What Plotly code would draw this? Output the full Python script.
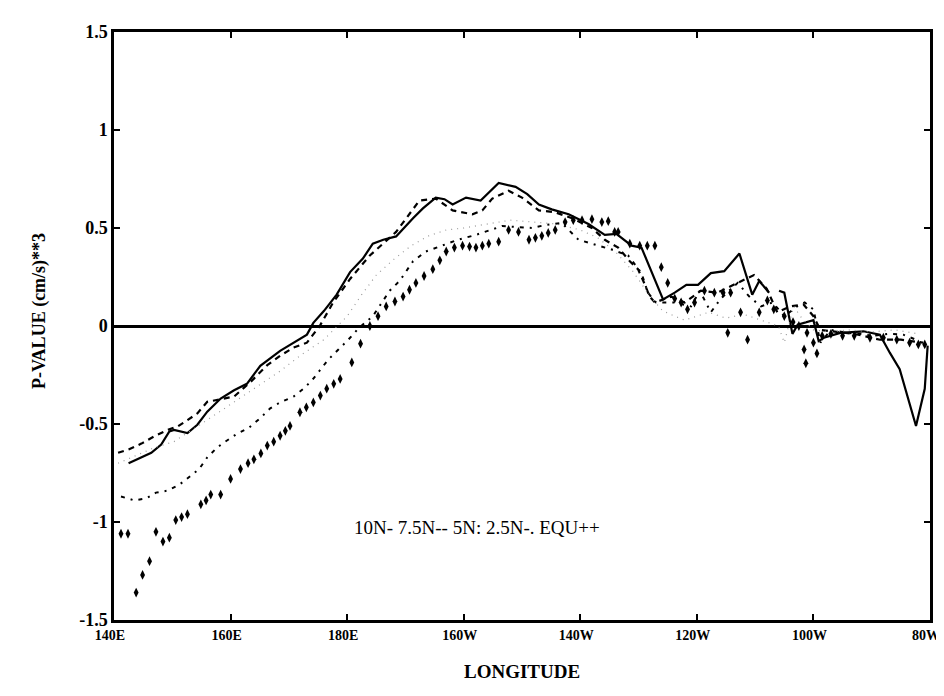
import plotly.graph_objects as go

# Longitude in degrees east (140E .. 280 = 80W)
tick_vals = [140, 160, 180, 200, 220, 240, 260, 280]
tick_text = ["140E", "160E", "180E", "160W", "140W", "120W", "100W", "80W"]
y_tick_vals = [-1.5, -1, -0.5, 0, 0.5, 1, 1.5]
y_tick_text = ["-1.5", "-1", "-0.5", "0", "0.5", "1", "1.5"]

lon_10n = [142.5, 144.7, 146.4, 148.1, 149.5, 150.3, 152.6, 154.3, 156.0, 158.3, 160.6, 162.8, 164.0, 165.1,
           168.5, 171.4, 173.1, 174.2, 176.0, 178.2, 180.5, 182.7, 184.4, 186.2, 188.4, 191.3, 193.0, 195.2,
           196.7, 198.1, 200.4, 202.9, 204.3, 206.0, 208.9, 210.9, 212.9, 215.1, 218.0, 221.4, 224.2, 226.2,
           228.8, 230.5, 234.2, 236.2, 238.2, 240.2, 242.4, 244.7, 247.3, 249.5, 250.7, 252.4, None, 254.1,
           255.0, 256.4, 257.3, 260.0, 260.9, 261.8, 264.6, 268.6, 271.4, 273.1, 274.8, 277.6, 279.1, 279.6]
val_10n = [-0.70, -0.67, -0.647, -0.605, -0.538, -0.53, -0.546, -0.504, -0.437, -0.37, -0.328, -0.295, -0.245, -0.203,
           -0.127, -0.077, -0.044, 0.016, 0.076, 0.16, 0.275, 0.344, 0.42, 0.44, 0.457, 0.55, 0.60, 0.655,
           0.647, 0.62, 0.655, 0.64, 0.68, 0.73, 0.71, 0.673, 0.62, 0.595, 0.57, 0.52, 0.465, 0.47,
           0.41, 0.40, 0.136, 0.17, 0.21, 0.21, 0.27, 0.28, 0.37, 0.16, 0.23, 0.17, None, 0.18,
           0.17, -0.04, 0.007, 0.03, -0.077, -0.06, -0.035, -0.027, -0.044, -0.136, -0.22, -0.51, -0.32, -0.10]

lon_75n = [140.7, 142.5, 144.7, 146.9, 149.2, 150.9, 152.6, 154.3, 156.0, 158.0, 160.6, 163.4, 166.3, 168.5,
           170.8, 173.1, 175.3, 177.6, 180.5, 183.9, 188.4, 192.4, 195.2, 198.1, 201.5, 203.2, 204.9, 207.7,
           210.0, 212.9, 215.7, 218.6, 222.0, 224.2, 226.5, 228.5, 229.9, 231.1, 231.9, 232.8, 235.6, 237.9,
           240.7, 243.5, 246.9, 249.8, 252.0, 253.8, 256.0, 258.3, 260.0, 261.2, 264.0, 267.0, 271.4, 275.0, 278.8]
val_75n = [-0.647, -0.63, -0.60, -0.563, -0.53, -0.513, -0.48, -0.446, -0.387, -0.375, -0.36, -0.286, -0.20, -0.152,
           -0.11, -0.085, 0.0, 0.12, 0.24, 0.36, 0.48, 0.64, 0.65, 0.59, 0.57, 0.59, 0.65, 0.69,
           0.655, 0.59, 0.58, 0.55, 0.50, 0.44, 0.40, 0.33, 0.29, 0.21, 0.15, 0.12, 0.15, 0.12,
           0.18, 0.17, 0.22, 0.26, 0.19, 0.07, 0.10, 0.11, 0.05, -0.02, -0.03, -0.04, -0.07, -0.07, -0.085]

lon_5n = [140.7, 144.0, 147.0, 150.3, 154.0, 158.0, 162.0, 165.0, 168.5, 172.0, 176.0, 180.0, 182.5, 185.0,
          188.0, 191.0, 194.0, 197.0, 200.0, 204.0, 208.0, 212.0, 216.0, 220.0, 223.0, 226.0, 229.0, 232.0,
          234.1, 236.2, 237.9, 240.0, 242.0, 245.0, 248.0, 251.0, 254.0, 255.0, 256.6, 258.0, 260.0, 263.0,
          266.0, 270.0, 274.0, 278.0]
val_5n = [-0.70, -0.66, -0.62, -0.59, -0.52, -0.44, -0.36, -0.30, -0.23, -0.15, -0.07, 0.05, 0.16, 0.26,
          0.34, 0.41, 0.46, 0.49, 0.50, 0.52, 0.54, 0.53, 0.52, 0.49, 0.45, 0.38, 0.28, 0.15,
          0.078, 0.05, 0.03, 0.05, 0.07, 0.04, 0.06, 0.03, 0.0, -0.085, 0.10, 0.04, -0.02, -0.03,
          -0.02, -0.03, -0.02, -0.04]

lon_25n = [141.2, 143.5, 145.5, 147.2, 149.2, 151.2, 152.9, 154.6, 156.0, 157.7, 159.1, 161.1, 163.1, 165.1,
           166.8, 168.5, 170.8, 172.5, 173.9, 175.4, 176.8, 178.5, 180.2, 182.0, 184.4, 187.3, 189.0, 191.3,
           193.5, 195.8, 199.0, 202.1, 204.5, 206.6, 209.0, 211.7, 214.0, 216.8, 219.7, 222.0, 225.4, 228.2,
           230.5, 231.6, 233.0, 236.2, 239.0, 240.5, 242.4, 244.1, 245.8, 247.0, 249.0, 251.0, 253.0, 255.0,
           257.2, 258.5, 260.0, 261.2, 263.0, 265.7, 268.0, 270.3, 273.0, 275.4, 277.6, 279.3]
val_25n = [-0.87, -0.89, -0.88, -0.85, -0.84, -0.81, -0.77, -0.73, -0.67, -0.62, -0.59, -0.55, -0.52, -0.47,
           -0.42, -0.39, -0.36, -0.32, -0.28, -0.22, -0.17, -0.12, -0.07, -0.01, 0.05, 0.18, 0.23, 0.33,
           0.38, 0.405, 0.44, 0.465, 0.49, 0.51, 0.505, 0.50, 0.515, 0.526, 0.44, 0.42, 0.39, 0.36,
           0.27, 0.17, 0.12, 0.12, 0.10, 0.18, 0.07, 0.14, 0.19, 0.22, 0.15, 0.10, 0.12, 0.05,
           0.10, 0.12, 0.085, -0.085, -0.02, -0.035, -0.04, -0.05, -0.04, -0.044, -0.07, -0.10]

lon_equ = [141.2, 142.4, 143.8, 144.9, 146.1, 147.2, 148.4, 149.5, 150.6, 151.6, 152.6, 154.9, 155.8, 156.6,
           158.3, 160.0, 161.7, 163.0, 164.0, 165.2, 166.3, 167.4, 168.5, 169.4, 170.2, 171.9, 173.0, 174.2,
           175.4, 176.5, 177.7, 178.8, 180.8, 182.3, 183.9, 185.3, 186.7, 188.2, 189.6, 190.7, 191.8, 193.2,
           194.7, 195.9, 197.0, 198.4, 199.8, 201.0, 202.1, 203.2, 204.3, 206.0, 207.7, 209.4, 211.2, 212.3,
           213.4, 214.5, 215.7, 217.4, 218.8, 220.3, 222.0, 223.7, 224.8, 225.9, 226.5, 228.5, 230.2, 231.5,
           232.8, 233.9, 235.0, 236.2, 237.3, 238.4, 239.6, 241.3, 243.0, 244.5, 245.3, 245.8, 247.5, 248.7,
           250.7, 252.1, 253.2, 255.0, 256.5, 257.5, 258.4, 258.7, 258.9, 260.0, 260.6, 261.5, 263.0, 265.0,
           267.0, 269.7, 272.0, 274.3, 276.5, 278.0, 279.1]
val_equ = [-1.06, -1.06, -1.36, -1.27, -1.20, -1.05, -1.10, -1.08, -0.99, -0.975, -0.96, -0.91, -0.89, -0.86,
           -0.86, -0.78, -0.73, -0.70, -0.68, -0.65, -0.61, -0.59, -0.56, -0.535, -0.51, -0.44, -0.415, -0.39,
           -0.355, -0.32, -0.295, -0.27, -0.186, -0.09, 0.0, 0.05, 0.10, 0.125, 0.15, 0.185, 0.22, 0.255,
           0.29, 0.335, 0.38, 0.40, 0.41, 0.405, 0.40, 0.41, 0.42, 0.43, 0.49, 0.48, 0.44, 0.45,
           0.46, 0.475, 0.49, 0.53, 0.54, 0.54, 0.545, 0.53, 0.535, 0.48, 0.48, 0.42, 0.41, 0.41,
           0.41, 0.30, 0.22, 0.14, 0.12, 0.085, 0.12, 0.18, 0.17, 0.17, -0.035, 0.17, 0.07, -0.07,
           0.07, 0.13, 0.085, 0.05, 0.02, 0.0, -0.12, -0.19, -0.035, -0.085, -0.14, -0.05, -0.04, -0.05,
           -0.05, -0.06, -0.06, -0.07, -0.085, -0.094, -0.094]

legend_text = "10N- 7.5N-- 5N: 2.5N-. EQU++"

serif = "Liberation Serif, Times New Roman, serif"

fig = go.Figure()
fig.add_trace(go.Scatter(x=lon_10n, y=val_10n, mode="lines", name="10N",
                         line=dict(color="black", width=2.2), connectgaps=False))
fig.add_trace(go.Scatter(x=lon_75n, y=val_75n, mode="lines", name="7.5N",
                         line=dict(color="black", width=2.2, dash="6px,5px")))
fig.add_trace(go.Scatter(x=lon_5n, y=val_5n, mode="lines", name="5N",
                         line=dict(color="#9a9a9a", width=1.2, dash="1px,5px")))
fig.add_trace(go.Scatter(x=lon_25n, y=val_25n, mode="lines", name="2.5N",
                         line=dict(color="black", width=2, dash="4px,6px,2px,6px")))
fig.add_trace(go.Scatter(x=lon_equ, y=val_equ, mode="markers", name="EQU",
                         marker=dict(color="black", symbol="diamond-tall", size=7)))

fig.add_annotation(x=180.8, y=-1.03, xref="x", yref="y", text=legend_text, showarrow=False,
                   xanchor="left", yanchor="middle",
                   font=dict(family=serif, size=19, color="black"))
fig.add_annotation(x=0.5, y=-0.088, xref="paper", yref="paper", text="LONGITUDE", showarrow=False,
                   xanchor="center", yanchor="middle",
                   font=dict(family=serif, size=19, color="black", weight="bold"))
fig.add_annotation(x=-0.091, y=0.525, xref="paper", yref="paper", text="P-VALUE (cm/s)**3", showarrow=False,
                   textangle=-90, xanchor="center", yanchor="middle",
                   font=dict(family=serif, size=18, color="black", weight="bold"))

fig.update_layout(
    width=944, height=696,
    margin=dict(l=106, r=17, t=24, b=84),
    paper_bgcolor="white", plot_bgcolor="white",
    showlegend=False,
    xaxis=dict(range=[140, 280], tickvals=tick_vals, ticktext=tick_text,
               showgrid=False, zeroline=False, showline=True, linecolor="black", linewidth=2.5,
               mirror="ticks", ticks="inside", ticklen=6, tickwidth=2, tickcolor="black",
               ticklabelshift=-4,
               tickfont=dict(family=serif, size=14, color="black", weight="bold")),
    yaxis=dict(range=[-1.5, 1.5], tickvals=y_tick_vals, ticktext=y_tick_text,
               showgrid=False, zeroline=True, zerolinecolor="black", zerolinewidth=2.5,
               showline=True, linecolor="black", linewidth=2.5,
               mirror="ticks", ticks="inside", ticklen=6, tickwidth=2, tickcolor="black",
               tickfont=dict(family=serif, size=18, color="black", weight="bold")),
)

fig.write_html("out.html")
